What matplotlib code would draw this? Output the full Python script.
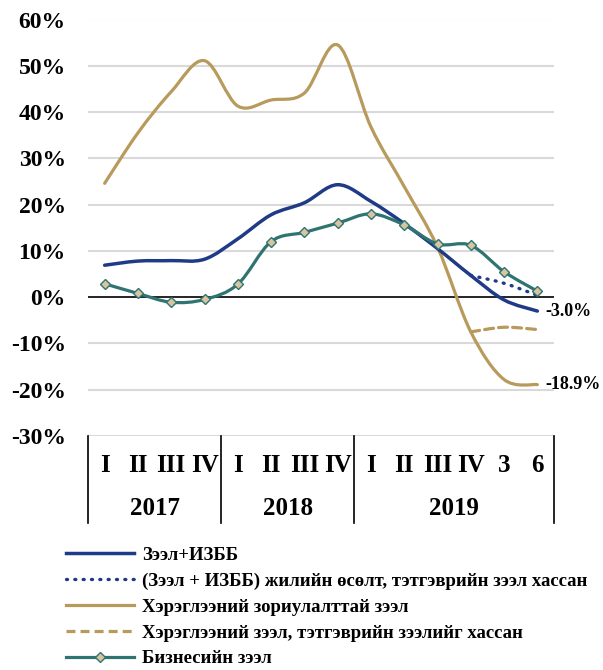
import numpy as np
import matplotlib
matplotlib.use('Agg')
import matplotlib.pyplot as plt
from matplotlib.path import Path
from matplotlib.patches import PathPatch
from matplotlib.lines import Line2D

plt.rcParams['font.family'] = ['Liberation Serif', 'DejaVu Serif']
plt.rcParams['font.weight'] = 'bold'
plt.rcParams['axes.unicode_minus'] = False

# Data
quarters = ['I', 'II', 'III', 'IV', 'I', 'II', 'III', 'IV', 'I', 'II', 'III', 'IV', '3', '6']
years = ['2017', '2018', '2019']
year_sizes = [4, 4, 6]

loan_total = [6.9, 7.8, 7.9, 8.2, 12.6, 17.8, 20.4, 24.3, 20.7, 15.9, 10.5, 4.7, -0.6, -3.0]
loan_total_ex = [4.7, 3.0, 0.4]          # from 2019 IV
consumer = [24.6, 35.5, 44.4, 51.1, 41.3, 42.6, 44.1, 54.5, 36.8, 23.9, 10.8, -7.5, -17.8, -18.9]
consumer_ex = [-7.5, -6.5, -7.0]         # from 2019 IV
business = [2.9, 0.8, -1.1, -0.5, 2.8, 12.0, 14.0, 16.0, 18.0, 15.6, 11.5, 11.2, 5.5, 1.3]

labels = ['Зээл+ИЗББ',
          '(Зээл + ИЗББ) жилийн өсөлт, тэтгэврийн зээл хассан',
          'Хэрэглээний зориулалттай зээл',
          'Хэрэглээний зээл, тэтгэврийн зээлийг хассан',
          'Бизнесийн зээл']

c_blue = '#1f3b87'
c_gold = '#b89a5c'
c_teal = '#2e7470'
c_fill = '#d8c59f'

dash_gold = (0, (2.8, 1.6))
dot_blue = (0, (0.3, 2.2))


def smooth_path(xs, ys):
    # Excel-like smoothed line: cubic Bezier through the points
    p = np.column_stack([xs, ys]).astype(float)
    n = len(p)
    verts = [p[0]]
    codes = [Path.MOVETO]
    for i in range(n - 1):
        p0 = p[i - 1] if i > 0 else p[i]
        p3 = p[i + 2] if i + 2 < n else p[i + 1]
        c1 = p[i] + (p[i + 1] - p0) / 6
        c2 = p[i + 1] - (p3 - p[i]) / 6
        verts += [c1, c2, p[i + 1]]
        codes += [Path.CURVE4] * 3
    return Path(verts, codes)


def draw(ax, xs, ys, **kw):
    patch = PathPatch(smooth_path(xs, ys), fill=False, capstyle='round',
                      joinstyle='round', **kw)
    ax.add_patch(patch)


fig = plt.figure(figsize=(6.03, 6.70), dpi=100)
ax = fig.add_axes([88 / 603, 1 - 436 / 670, (554 - 88) / 603, (436 - 19.5) / 670])

x = np.arange(len(quarters))
x_ex = x[11:]

ax.set_xlim(-0.5, len(quarters) - 0.5)
ax.set_ylim(-30, 60)
yt = np.arange(-30, 61, 10)
ax.set_yticks(yt)
ax.set_yticklabels([f'{v}%' for v in yt], fontsize=17, fontweight='bold')
ax.tick_params(axis='y', length=0, pad=16)
ax.set_xticks([])
for s in ax.spines.values():
    s.set_visible(False)
for v in yt:
    if v != 0:
        ax.axhline(v, color='#d9d9d9', lw=1.5, zorder=0)
ax.axhline(0, color='black', lw=1.2, zorder=1)

draw(ax, x, consumer, edgecolor=c_gold, lw=2.3, zorder=3)
draw(ax, x_ex, consumer_ex, edgecolor=c_gold, lw=2.3, linestyle=dash_gold, zorder=3)
draw(ax, x, loan_total, edgecolor=c_blue, lw=2.5, zorder=4)
draw(ax, x_ex, loan_total_ex, edgecolor=c_blue, lw=2.4, linestyle=dot_blue, zorder=4)
draw(ax, x, business, edgecolor=c_teal, lw=2.3, zorder=5)
ax.plot(x, business, ls='none', marker='D', ms=5.5, mfc=c_fill, mec=c_teal, mew=1, zorder=6)

ax.text(x[-1] + 0.25, loan_total[-1], f'{loan_total[-1]:.1f}%', fontsize=13,
        fontweight='bold', va='center', ha='left')
ax.text(x[-1] + 0.25, consumer[-1], f'{consumer[-1]:.1f}%', fontsize=13,
        fontweight='bold', va='center', ha='left')

# Multi-level category axis
trans = ax.get_xaxis_transform()
bottom = -(523 - 436) / (436 - 19.5)
for i, q in enumerate(quarters):
    ax.text(i, -0.07, q, transform=trans, ha='center', va='center',
            fontsize=18, fontweight='bold')
start = 0
edges = [-0.5]
for yr, n in zip(years, year_sizes):
    ax.text(start + (n - 1) / 2, -0.173, yr, transform=trans, ha='center',
            va='center', fontsize=18, fontweight='bold')
    start += n
    edges.append(start - 0.5)
for e in edges:
    ax.plot([e, e], [0, bottom], transform=trans, color='black', lw=1.2,
            clip_on=False)

handles = [
    Line2D([], [], color=c_blue, lw=2.5),
    Line2D([], [], color=c_blue, lw=2.4, ls=dot_blue, dash_capstyle='round'),
    Line2D([], [], color=c_gold, lw=2.3),
    Line2D([], [], color=c_gold, lw=2.3, ls=dash_gold),
    Line2D([], [], color=c_teal, lw=2.3, marker='D', ms=5.5, mfc=c_fill, mec=c_teal),
]
fig.legend(handles, labels, loc='upper left', bbox_to_anchor=(57 / 603, 1 - 537 / 670),
           frameon=False, prop={'weight': 'bold', 'size': 13.5},
           handlelength=3.6, handletextpad=0.45, labelspacing=0.47, borderpad=0)

fig.savefig('out.png', dpi=100)
